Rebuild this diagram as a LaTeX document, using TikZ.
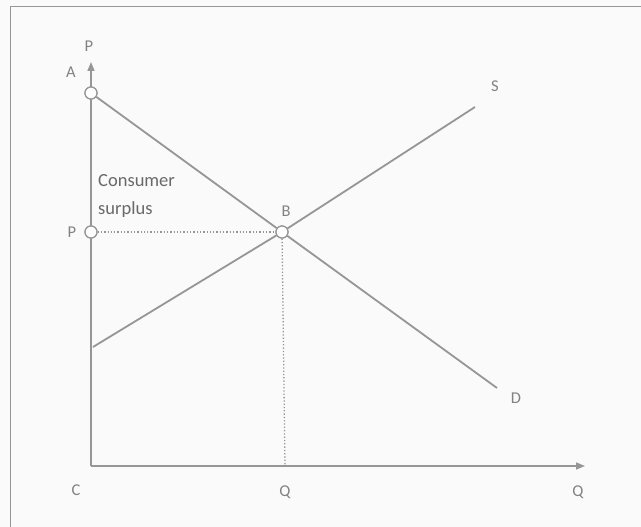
\documentclass[tikz,border=0pt]{standalone}
\usepackage{fontspec}
\setmainfont{Carlito}
\usetikzlibrary{arrows.meta}
\definecolor{ln}{RGB}{150,150,150}
\definecolor{tx}{RGB}{130,130,130}
\definecolor{tx2}{RGB}{105,105,105}
\begin{document}
\begin{tikzpicture}[x=1pt,y=-1pt,
  axis/.style={draw=ln,line width=1.6pt,-{Triangle[length=9pt,width=7pt]}},
  curve/.style={draw=ln,line width=1.8pt},
  guide/.style={draw=ln,line width=1.3pt,dotted},
  dot/.style={circle,draw=ln,fill=white,line width=1.2pt,minimum size=12pt,inner sep=0pt},
  lab/.style={text=tx,font=\fontsize{16.5}{19}\selectfont,inner sep=1pt},
  big/.style={text=tx2,font=\fontsize{18.5}{28}\selectfont,align=left,inner sep=0pt,anchor=west}]
\useasboundingbox (0,0) rectangle (641,527);
\fill[gray!4] (0,0) rectangle (641,527);
\draw[ln,line width=1pt] (641,7) -- (10,7) -- (10,527);
\coordinate (O) at (91,466);
\coordinate (ytop) at (91,62);
\coordinate (xend) at (585,466);
\coordinate (Sst) at (93,347);
\coordinate (Send) at (475,107);
\coordinate (Dend) at (497,388);
\coordinate (Qb) at (285,466);
\draw[axis] (O) -- (ytop);
\draw[axis] (O) -- (xend);
\node[dot] (A) at (91,93) {};
\node[dot] (B) at (282,232) {};
\node[dot] (P) at (91,232) {};
\draw[curve] (A) -- (B) -- (Dend);
\draw[curve] (Sst) -- (B) -- (Send);
\draw[guide] (P) -- (B);
\draw[guide] (B) -- (Qb);
\node[dot] at (A) {};
\node[dot] at (B) {};
\node[dot] at (P) {};
\node[lab] (lP) at (89,46) {P};
\node[lab] (lA) at (71,72) {A};
\node[lab] (lP2) at (72,232) {P};
\node[lab] (lB) at (286,211) {B};
\node[lab] (lS) at (495,86) {S};
\node[lab] (lD) at (516,398) {D};
\node[lab] (lC) at (76,490) {C};
\node[lab] (lQ) at (285,492) {Q};
\node[lab] (lQ2) at (578,492) {Q};
\node[big] (cs) at (98,196) {Consumer\\surplus};
\end{tikzpicture}
\end{document}
